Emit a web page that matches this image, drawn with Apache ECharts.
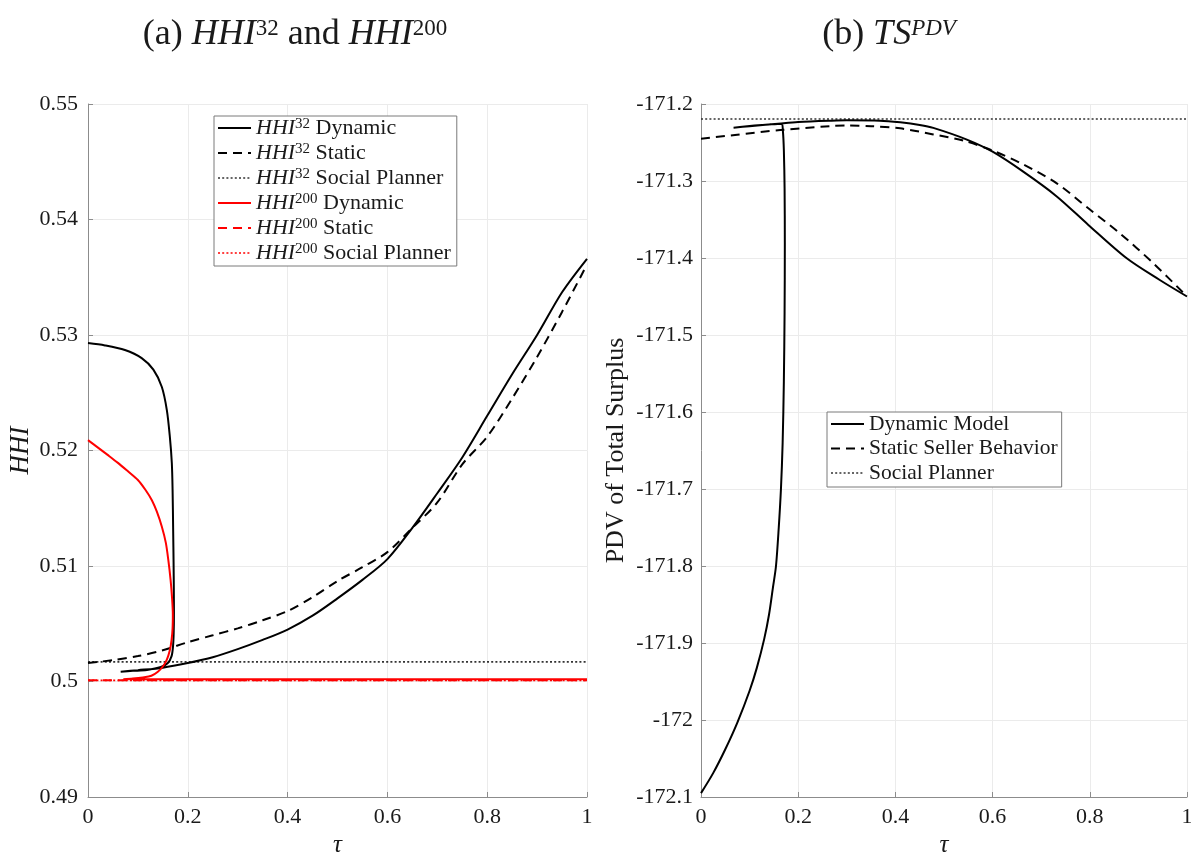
<!DOCTYPE html>
<html><head><meta charset="utf-8">
<script src="https://cdn.jsdelivr.net/npm/echarts@6/dist/echarts.min.js"></script>
<style>html,body{margin:0;padding:0;background:#fff}#c{width:1191px;height:853px}</style>
</head><body><div id="c"></div>
<script>
// ---------- data (tau, value) ----------
const xTicks = [0, 0.2, 0.4, 0.6, 0.8, 1];
const hhiTicks = [0.49, 0.50, 0.51, 0.52, 0.53, 0.54, 0.55];
const tsTicks = [-172.1, -172.0, -171.9, -171.8, -171.7, -171.6, -171.5, -171.4, -171.3, -171.2];

const hhi32Dynamic = [[0,0.5293],[0.034,0.5291],[0.074,0.5287],[0.1076,0.5280],[0.131,0.5270],[0.148,0.5255],[0.158,0.5235],[0.164,0.5212],[0.168,0.5189],[0.1695,0.5166],[0.1707,0.5130],[0.1715,0.5103],[0.172,0.5080],[0.1722,0.5059],[0.1717,0.5042],[0.1703,0.5030],[0.1675,0.5022],[0.160,0.5016],[0.146,0.50125],[0.118,0.5010],[0.09,0.50092],[0.0655,0.50085],[0.1,0.50098],[0.15,0.5012],[0.2,0.5016],[0.25,0.5021],[0.3,0.5028],[0.35,0.5036],[0.4,0.5045],[0.45,0.5057],[0.5,0.5072],[0.55,0.5088],[0.6,0.5106],[0.65,0.5133],[0.7,0.5163],[0.75,0.5194],[0.8,0.5230],[0.85,0.5266],[0.9,0.5300],[0.95,0.5337],[1.0,0.5366]];
const hhi32Static = [[0,0.5016],[0.05,0.50185],[0.1,0.5022],[0.15,0.5027],[0.2,0.5034],[0.25,0.5040],[0.3,0.5046],[0.35,0.5053],[0.4,0.5061],[0.45,0.5073],[0.5,0.5087],[0.55,0.5099],[0.6,0.5112],[0.65,0.5133],[0.7,0.5155],[0.75,0.5188],[0.8,0.5212],[0.85,0.5245],[0.9,0.5281],[0.95,0.5320],[1.0,0.5361]];
const hhi32Planner = [[0,0.5017],[1,0.5017]];
const hhi200Dynamic = [[0,0.5209],[0.02,0.52025],[0.04,0.5196],[0.06,0.51893],[0.08,0.5182],[0.10,0.51745],[0.115,0.5166],[0.128,0.5157],[0.138,0.5147],[0.148,0.5134],[0.156,0.5120],[0.161,0.5105],[0.1655,0.5088],[0.1685,0.5072],[0.170,0.5058],[0.1695,0.5046],[0.1675,0.5036],[0.164,0.5027],[0.158,0.5019],[0.150,0.5013],[0.140,0.50085],[0.127,0.5005],[0.110,0.50035],[0.090,0.50025],[0.0708,0.5002],[0.2,0.5002],[0.6,0.5002],[1,0.5002]];
const hhi200Static = [[0,0.5001],[1,0.5001]];
const hhi200Planner = [[0,0.5001],[1,0.5001]];

const tsDynamic = [[0,-172.095],[0.025,-172.069],[0.05,-172.038],[0.075,-172.003],[0.1,-171.962],[0.115,-171.932],[0.13,-171.895],[0.14,-171.863],[0.148,-171.828],[0.1543,-171.8],[0.16,-171.75],[0.1645,-171.7],[0.168,-171.64],[0.1705,-171.56],[0.172,-171.47],[0.1725,-171.38],[0.172,-171.31],[0.1705,-171.26],[0.1685,-171.235],[0.166,-171.2255],[0.14,-171.2265],[0.11,-171.228],[0.09,-171.2292],[0.067,-171.2307],[0.1,-171.2288],[0.165,-171.2252],[0.2,-171.2235],[0.265,-171.2218],[0.3,-171.2212],[0.368,-171.2216],[0.41,-171.2238],[0.45,-171.2272],[0.478,-171.2310],[0.547,-171.2462],[0.6,-171.262],[0.663,-171.2879],[0.732,-171.320],[0.797,-171.357],[0.876,-171.4004],[0.944,-171.4286],[1,-171.450]];
const tsStatic = [[0,-171.245],[0.07,-171.2402],[0.163,-171.2338],[0.265,-171.2288],[0.3,-171.228],[0.35,-171.2288],[0.41,-171.2316],[0.478,-171.2395],[0.54,-171.2475],[0.6,-171.2605],[0.663,-171.2785],[0.732,-171.303],[0.797,-171.3355],[0.862,-171.368],[0.931,-171.407],[1,-171.450]];
const tsPlanner = [[0,-171.2195],[1,-171.2195]];

const leftNames = ['HHI32 Dynamic','HHI32 Static','HHI32 Social Planner','HHI200 Dynamic','HHI200 Static','HHI200 Social Planner'];
const rightNames = ['Dynamic Model','Static Seller Behavior','Social Planner'];
// -------------------------------------

const SERIF = 'Liberation Serif';
const TXT = '#1a1a1a';
const DASH = [9, 6];
const DOT = [2, 2.2];
const styles = {
  'HHI32 Dynamic': {color:'#000', width:2, type:'solid'},
  'HHI32 Static': {color:'#000', width:2, type:DASH},
  'HHI32 Social Planner': {color:'#333', width:1.6, type:DOT},
  'HHI200 Dynamic': {color:'#ff0000', width:2, type:'solid'},
  'HHI200 Static': {color:'#ff0000', width:2, type:DASH},
  'HHI200 Social Planner': {color:'#ff0000', width:1.6, type:DOT},
  'Dynamic Model': {color:'#000', width:2, type:'solid'},
  'Static Seller Behavior': {color:'#000', width:2, type:DASH},
  'Social Planner': {color:'#333', width:1.6, type:DOT}
};
const dataMap = {
  'HHI32 Dynamic': hhi32Dynamic, 'HHI32 Static': hhi32Static, 'HHI32 Social Planner': hhi32Planner,
  'HHI200 Dynamic': hhi200Dynamic, 'HHI200 Static': hhi200Static, 'HHI200 Social Planner': hhi200Planner,
  'Dynamic Model': tsDynamic, 'Static Seller Behavior': tsStatic, 'Social Planner': tsPlanner
};
const drawOrder = ['HHI32 Social Planner','HHI200 Social Planner','HHI200 Static','HHI32 Static','HHI32 Dynamic','HHI200 Dynamic','Social Planner','Static Seller Behavior','Dynamic Model'];

const LF = 22;
const richBase = {
  i: {fontFamily: SERIF, fontStyle: 'italic', fontSize: LF, color: TXT},
  s: {fontFamily: SERIF, fontSize: 15, color: TXT, verticalAlign: 'top', lineHeight: 13},
  n: {fontFamily: SERIF, fontSize: LF, color: TXT}
};
function leftLabel(name) {
  const m = name.match(/^HHI(\d+) (.*)$/);
  return '{i|HHI}{s|' + m[1] + '}{n| ' + m[2] + '}';
}

const axisLine = {show: true, lineStyle: {color: '#8c8c8c', width: 1}};
const splitLine = {show: true, lineStyle: {color: '#ebebeb', width: 1}};
const axisTick = {show: true, inside: true, length: 5, lineStyle: {color: '#8c8c8c'}};
const axisLabel = {fontFamily: SERIF, fontSize: 22, color: TXT, margin: 10};

function xAxis(gi) {
  return {type: 'value', gridIndex: gi, min: xTicks[0], max: xTicks[xTicks.length-1], interval: 0.2,
    axisLine, splitLine, axisTick, axisLabel: Object.assign({}, axisLabel, {margin: 9, formatter: v => String(+v.toFixed(1))}),
    name: 'τ', nameLocation: 'middle', nameGap: 26,
    nameTextStyle: {fontFamily: SERIF, fontStyle: 'italic', fontSize: 25, color: TXT}};
}

const curved = ['HHI32 Dynamic','HHI32 Static','HHI200 Dynamic','Dynamic Model','Static Seller Behavior'];
const series = drawOrder.map((name, k) => {
  const right = rightNames.indexOf(name) >= 0;
  return {type: 'line', name, xAxisIndex: right ? 1 : 0, yAxisIndex: right ? 1 : 0,
    data: dataMap[name], symbol: 'none', showSymbol: false, silent: true, z: 2 + k,
    smooth: curved.indexOf(name) >= 0 ? 0.3 : false,
    itemStyle: {color: styles[name].color},
    lineStyle: Object.assign({}, styles[name])};
});

function legendItem(n) {
  return {name: n, lineStyle: {color: styles[n].color, width: styles[n].width, type: styles[n].type},
    itemStyle: {color: 'rgba(0,0,0,0)', borderWidth: 0, opacity: 0}};
}

const TF = 36;
const titleRich = {
  i: {fontFamily: SERIF, fontStyle: 'italic', fontSize: TF, color: TXT},
  s: {fontFamily: SERIF, fontSize: 23, color: TXT, verticalAlign: 'top', lineHeight: 21},
  si: {fontFamily: SERIF, fontStyle: 'italic', fontSize: 23, color: TXT, verticalAlign: 'top', lineHeight: 21}
};

const option = {
  backgroundColor: '#fff',
  animation: false,
  title: [
    {text: '(a) {i|HHI}{s|32} and {i|HHI}{s|200}', left: 290, top: 12, textAlign: 'center',
     textStyle: {fontFamily: SERIF, fontSize: TF, fontWeight: 'normal', color: TXT, rich: titleRich}},
    {text: '(b) {i|TS}{si|PDV}', left: 884, top: 12, textAlign: 'center',
     textStyle: {fontFamily: SERIF, fontSize: TF, fontWeight: 'normal', color: TXT, rich: titleRich}}
  ],
  grid: [
    {left: 88, top: 104, width: 499, height: 693, containLabel: false, outerBoundsMode: 'none'},
    {left: 701, top: 104, width: 486, height: 693, containLabel: false, outerBoundsMode: 'none'}
  ],
  xAxis: [xAxis(0), xAxis(1)],
  yAxis: [
    {type: 'value', gridIndex: 0, min: hhiTicks[0], max: hhiTicks[hhiTicks.length-1], interval: 0.01,
     axisLine, splitLine, axisTick, axisLabel: Object.assign({}, axisLabel, {formatter: v => String(+v.toFixed(2))}),
     name: 'HHI', nameLocation: 'middle', nameGap: 54,
     nameTextStyle: {fontFamily: SERIF, fontStyle: 'italic', fontSize: 27, color: TXT}},
    {type: 'value', gridIndex: 1, min: tsTicks[0], max: tsTicks[tsTicks.length-1], interval: 0.1,
     axisLine, splitLine, axisTick, axisLabel: Object.assign({}, axisLabel, {margin: 8, formatter: v => String(+v.toFixed(1))}),
     name: 'PDV of Total Surplus', nameLocation: 'middle', nameGap: 72,
     nameTextStyle: {fontFamily: SERIF, fontSize: 26, color: TXT}}
  ],
  legend: [
    {orient: 'vertical', left: 214, top: 116, itemWidth: 33, itemHeight: 14, itemGap: 3,
     padding: [1, 6, 2, 3], borderColor: '#7a7a7a', borderWidth: 1, backgroundColor: '#fff',
     selectedMode: false,
     data: leftNames.map(legendItem),
     formatter: leftLabel,
     textStyle: {fontFamily: SERIF, fontSize: LF, color: TXT, lineHeight: 22, rich: richBase}},
    {orient: 'vertical', left: 827, top: 412, itemWidth: 33, itemHeight: 14, itemGap: 2.5,
     padding: [1, 4, 3, 3], borderColor: '#7a7a7a', borderWidth: 1, backgroundColor: '#fff',
     selectedMode: false,
     data: rightNames.map(legendItem),
     textStyle: {fontFamily: SERIF, fontSize: 21.5, color: TXT, lineHeight: 22}}
  ],
  series
};

const chart = echarts.init(document.getElementById('c'), null, {renderer: 'canvas'});
chart.setOption(option);
</script></body></html>
